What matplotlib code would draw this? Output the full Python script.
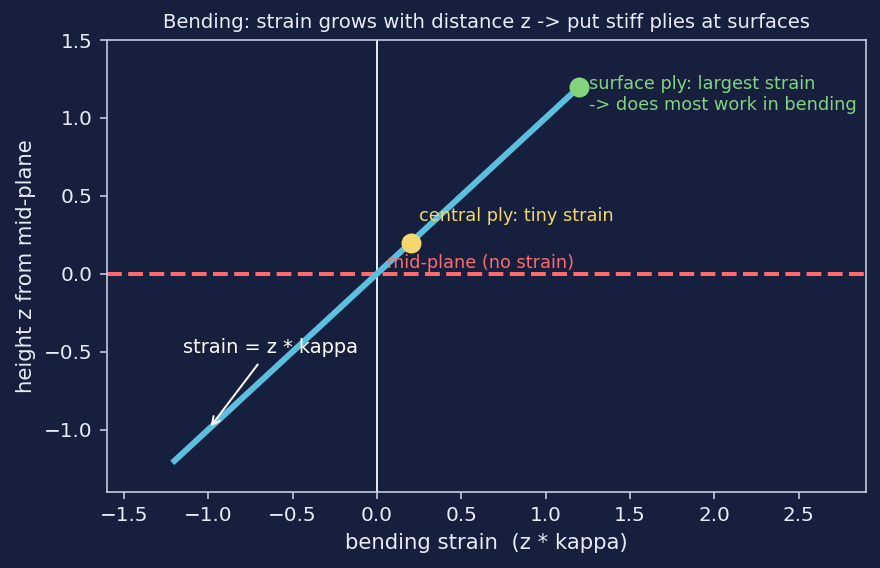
import matplotlib
matplotlib.use("Agg")
import matplotlib.pyplot as plt
import numpy as np

# data
strain_line = [-1.2, 1.2]
z_line = [-1.2, 1.2]
central_ply = (0.2, 0.2)
surface_ply = (1.2, 1.2)

bg = '#161f3e'
fg = '#e8ecf8'
spine_col = '#c9d0e6'
blue = '#5bc0de'
red = '#ff6b6b'
yellow = '#f5d76e'
green = '#82d47e'

plt.rcParams['font.family'] = 'DejaVu Sans'

fig, ax = plt.subplots(figsize=(880/144, 568/144), dpi=144)
fig.patch.set_facecolor(bg)
ax.set_facecolor(bg)

ax.axhline(0, color=red, lw=2, ls='--', zorder=1)
ax.axvline(0, color='white', lw=0.9, zorder=1)
ax.plot(strain_line, z_line, color=blue, lw=3, zorder=2)
ax.plot(*central_ply, 'o', color=yellow, ms=9, zorder=3)
ax.plot(*surface_ply, 'o', color=green, ms=9, zorder=3)

ax.text(0.25, 0.34, 'central ply: tiny strain', color=yellow, fontsize=8.9)
ax.text(0.06, 0.04, 'mid-plane (no strain)', color=red, fontsize=8.9)
ax.text(1.26, 1.15, 'surface ply: largest strain\n-> does most work in bending',
        color=green, fontsize=8.9, va='center')
ax.annotate('strain = z * kappa', xy=(-1.0, -1.0), xytext=(-1.15, -0.51),
            color='white', fontsize=9.7,
            arrowprops=dict(arrowstyle='->', color='white', lw=1))

ax.set_xlim(-1.6, 2.9)
ax.set_ylim(-1.4, 1.5)
ax.set_xlabel('bending strain  (z * kappa)', color=fg, fontsize=10.6)
ax.set_ylabel('height z from mid-plane', color=fg, fontsize=10.6)
ax.set_title('Bending: strain grows with distance z -> put stiff plies at surfaces',
             color=fg, fontsize=9.8)
ax.tick_params(colors=spine_col, labelcolor=fg)
for s in ax.spines.values():
    s.set_color(spine_col)

fig.subplots_adjust(left=107/880, right=866/880, top=1-40/568, bottom=1-492/568)
fig.savefig('out.png', dpi=144, facecolor=bg)
